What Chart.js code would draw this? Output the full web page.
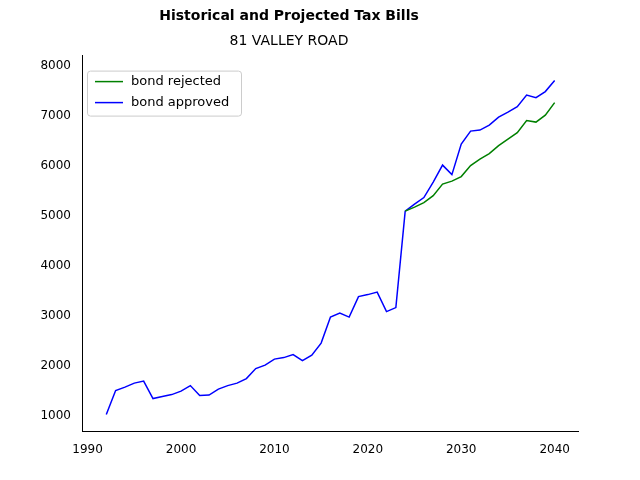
<!DOCTYPE html>
<html>
<head>
<meta charset="utf-8">
<script src="https://cdn.jsdelivr.net/npm/chart.js@4"></script>
<style>
body { margin: 0; background: #fff; }
</style>
</head>
<body>
<canvas id="taxChart" width="640" height="480"></canvas>
<script>
const histYears = [1992, 1993, 1994, 1995, 1996, 1997, 1998, 1999, 2000, 2001, 2002, 2003, 2004, 2005, 2006, 2007, 2008, 2009, 2010, 2011, 2012, 2013, 2014, 2015, 2016, 2017, 2018, 2019, 2020, 2021, 2022, 2023];
const histBills = [1020, 1500, 1570, 1650, 1690, 1340, 1380, 1420, 1490, 1600, 1400, 1410, 1530, 1600, 1650, 1740, 1940, 2010, 2130, 2160, 2220, 2100, 2210, 2450, 2970, 3050, 2970, 3380, 3420, 3470, 3080, 3160];
const projYears = [2024, 2025, 2026, 2027, 2028, 2029, 2030, 2031, 2032, 2033, 2034, 2035, 2036, 2037, 2038, 2039, 2040];
const rejectedBills = [5090, 5170, 5260, 5400, 5630, 5690, 5780, 6000, 6130, 6240, 6400, 6530, 6660, 6900, 6870, 7010, 7260];
const approvedBills = [5090, 5230, 5360, 5670, 6010, 5820, 6430, 6690, 6710, 6810, 6970, 7070, 7180, 7410, 7360, 7480, 7700];
const xTicks = [1990, 2000, 2010, 2020, 2030, 2040];
const yTicks = [1000, 2000, 3000, 4000, 5000, 6000, 7000, 8000];

function toPoints(xs, ys) {
    return xs.map((x, i) => ({ x: x, y: ys[i] }));
}

const rejectedPoints = toPoints(projYears, rejectedBills);
const approvedPoints = toPoints(histYears.concat(projYears), histBills.concat(approvedBills));

const boxLegend = {
    id: "boxLegend",
    afterDraw(chart) {
        const ctx = chart.ctx;
        const area = chart.chartArea;
        const x = area.left + 5, y = area.top + 15;
        ctx.save();
        ctx.fillStyle = "rgba(255,255,255,0.8)";
        ctx.strokeStyle = "#cccccc";
        ctx.lineWidth = 1;
        ctx.beginPath();
        ctx.roundRect(x + 0.5, y + 0.5, 154, 45, 3);
        ctx.fill();
        ctx.stroke();
        ctx.font = "13px 'DejaVu Sans'";
        ctx.textBaseline = "middle";
        chart.data.datasets.forEach((ds, i) => {
            const ly = y + 11 + i * 21;
            ctx.strokeStyle = ds.borderColor;
            ctx.lineWidth = 1.5;
            ctx.beginPath();
            ctx.moveTo(x + 8, ly);
            ctx.lineTo(x + 36, ly);
            ctx.stroke();
            ctx.fillStyle = "#000";
            ctx.fillText(ds.label, x + 44, ly);
        });
        ctx.restore();
    }
};

new Chart(document.getElementById("taxChart"), {
    type: "line",
    data: {
        datasets: [
            { label: "bond rejected", data: rejectedPoints, borderColor: "#008000", borderWidth: 1.5, pointRadius: 0, tension: 0, fill: false },
            { label: "bond approved", data: approvedPoints, borderColor: "#0000ff", borderWidth: 1.5, pointRadius: 0, tension: 0, fill: false }
        ]
    },
    options: {
        responsive: false,
        animation: false,
        layout: { padding: { left: 0, right: 62, top: 0, bottom: 20 } },
        plugins: {
            legend: { display: false },
            tooltip: { enabled: false },
            title: {
                display: true,
                text: "Historical and Projected Tax Bills",
                color: "#000",
                font: { family: "DejaVu Sans", size: 14, weight: "bold" },
                padding: { top: 8, bottom: 4 }
            },
            subtitle: {
                display: true,
                text: "81 VALLEY ROAD",
                color: "#000",
                font: { family: "DejaVu Sans", size: 14 },
                padding: { top: 4, bottom: 6 }
            }
        },
        scales: {
            x: {
                type: "linear",
                min: 1989.4,
                max: 2042.5,
                grid: { display: false },
                border: { color: "#000" },
                afterBuildTicks: (axis) => { axis.ticks = xTicks.map(v => ({ value: v })); },
                ticks: { color: "#000", font: { family: "DejaVu Sans", size: 12 }, autoSkip: false, maxRotation: 0, callback: (v) => String(v) }
            },
            y: {
                min: 680,
                max: 8200,
                grid: { display: false },
                border: { color: "#000" },
                afterBuildTicks: (axis) => { axis.ticks = yTicks.map(v => ({ value: v })); },
                afterFit: (axis) => { axis.width = 82; },
                ticks: { color: "#000", font: { family: "DejaVu Sans", size: 12 }, autoSkip: false, callback: (v) => String(v) }
            }
        }
    },
    plugins: [boxLegend]
});
</script>
</body>
</html>
